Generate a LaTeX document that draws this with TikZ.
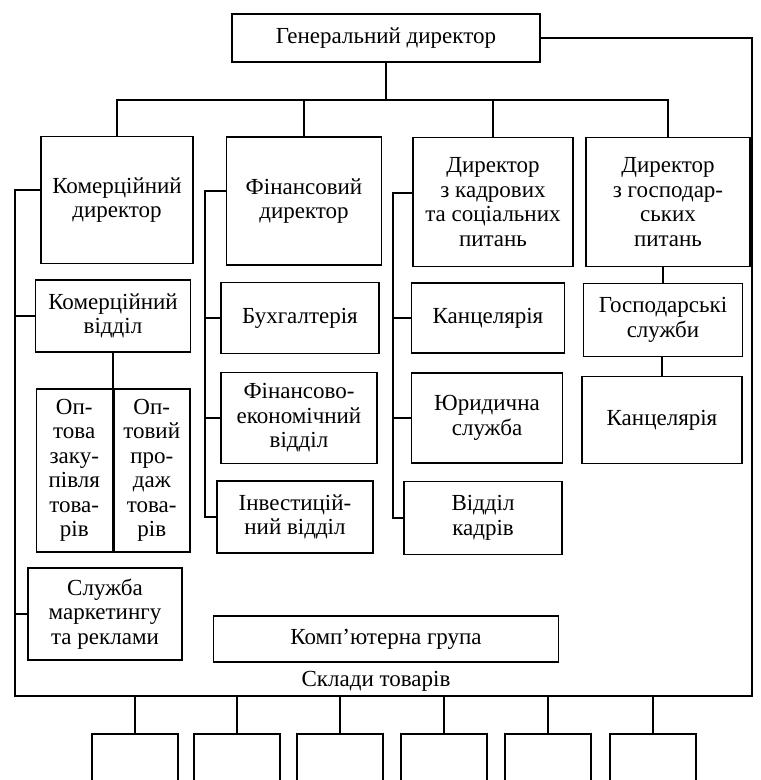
\documentclass[tikz,border=0pt]{standalone}
\usepackage{fontspec}
\setmainfont{Liberation Serif}
\usetikzlibrary{positioning}

\begin{document}
\begin{tikzpicture}[x=1pt, y=-1pt, line width=1.5pt,
    box/.style={draw, align=center, inner sep=2pt, font=\fontsize{23}{24.5}\selectfont},
    lbl/.style={font=\fontsize{23}{24.5}\selectfont}]

    \useasboundingbox (0,0) rectangle (761,780);
    \clip (0,0) rectangle (761,780);

    \node[box, minimum width=308pt, minimum height=48pt] (gen) at (386,38) {Генеральний директор};

    % директори
    \node[box, minimum width=152pt, minimum height=127pt] (kd) at (117,200) {Комерційний\\директор};
    \node[box, minimum width=155pt, minimum height=128pt] (fd) at (304,201) {Фінансовий\\директор};
    \node[box, minimum width=160pt, minimum height=129pt] (dk) at (493,202) {Директор\\з кадрових\\та соціальних\\питань};
    \node[box, minimum width=164pt, minimum height=129pt] (dg) at (668,202) {Директор\\з господар-\\ських\\питань};

    % комерційна частина
    \node[box, minimum width=155pt, minimum height=72pt] (kv) at (113,316) {Комерційний\\відділ};
    \node[box, minimum width=76pt, minimum height=163pt, anchor=north east] (opz) at (113,388) {Оп-\\това\\заку-\\півля\\това-\\рів};
    \node[box, minimum width=76pt, minimum height=163pt, anchor=north west] (opp) at (113,388) {Оп-\\товий\\про-\\даж\\това-\\рів};
    \node[box, minimum width=154pt, minimum height=92pt] (mk) at (105,614) {Служба\\маркетингу\\та реклами};

    % фінанси
    \node[box, minimum width=158pt, minimum height=71pt] (bh) at (300,318) {Бухгалтерія};
    \node[box, minimum width=156pt, minimum height=91pt] (fe) at (299,418) {Фінансово-\\економічний\\відділ};
    \node[box, minimum width=156pt, minimum height=72pt] (inv) at (295,517) {Інвестицій-\\ний відділ};

    % кадри
    \node[box, minimum width=153pt, minimum height=70pt] (kn1) at (488,318) {Канцелярія};
    \node[box, minimum width=151pt, minimum height=90pt] (ys) at (487,418) {Юридична\\служба};
    \node[box, minimum width=158pt, minimum height=73pt] (vk) at (483,518) {Відділ\\кадрів};

    % господарство
    \node[box, minimum width=159pt, minimum height=73pt] (gs) at (663,320) {Господарські\\служби};
    \node[box, minimum width=160pt, minimum height=87pt] (kn2) at (662,420) {Канцелярія};

    \node[box, minimum width=345pt, minimum height=46pt] (kg) at (386,639) {Комп’ютерна група};
    \node[lbl] (skl) at (376,681) {Склади товарів};

    \coordinate (top) at (386,100);
    \coordinate (fr1) at (752,38);
    \coordinate (fr2) at (752,696);
    \coordinate (fr3) at (15,696);
    \coordinate (fb) at (205,0);
    \coordinate (kb) at (393,0);

    \draw (gen.south) -- (top);
    \draw (kd.north) |- (top) -| (dg.north);
    \draw (fd.north) -- (fd.north |- top);
    \draw (dk.north) -- (dk.north |- top);

    \draw (gen.east) -- (fr1) -- (fr2) -- (fr3) |- ([yshift=10pt]kd.west);
    \draw (kv.west) -- (kv.west -| fr3);
    \draw (mk.west) -- (mk.west -| fr3);
    \draw (kv.south) -- (opz.north east);

    \draw ([yshift=10pt]fd.west) -| (fb |- inv.west) -- (inv.west);
    \draw (bh.west) -- (bh.west -| fb);
    \draw (fe.west) -- (fe.west -| fb);

    \draw ([yshift=9pt]dk.west) -| (kb |- vk.west) -- (vk.west);
    \draw (kn1.west) -- (kn1.west -| kb);
    \draw (ys.west) -- (ys.west -| kb);

    \draw (gs.north) -- (gs.north |- dg.south);
    \draw (kn2.north) -- (kn2.north |- gs.south);

    % склади
    \foreach \i/\x in {1/135,2/237,3/340,4/444,5/548,6/653}{
        \node[box, minimum width=86pt, minimum height=70pt, anchor=north] (sk\i) at (\x,733) {};
        \draw (sk\i.north) -- (sk\i.north |- fr3);
    }

\end{tikzpicture}
\end{document}
